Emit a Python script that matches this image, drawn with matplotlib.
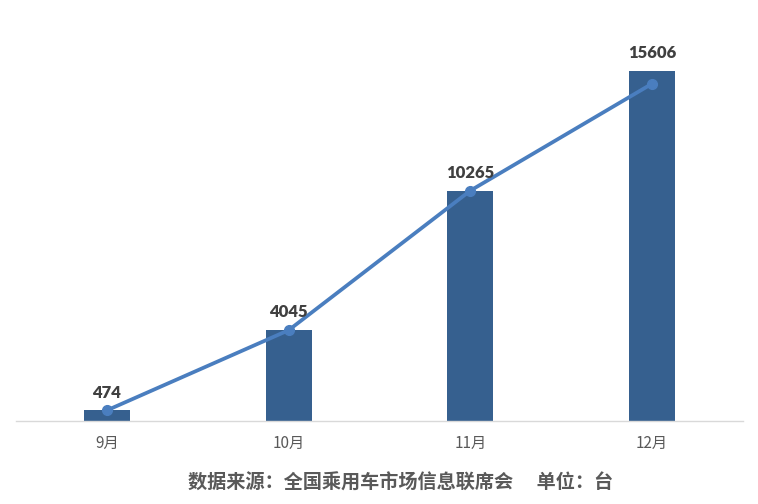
import matplotlib
matplotlib.use('Agg')
import matplotlib.pyplot as plt
import numpy as np

# data
months = ['9月', '10月', '11月', '12月']
bar_vals = [474, 4045, 10265, 15606]
line_vals = [474, 4045, 10265, 15030]
source = '数据来源：全国乘用车市场信息联席会\u3000 单位：台'

plt.rcParams['font.family'] = ['Noto Sans CJK SC', 'DejaVu Sans']

fig = plt.figure(figsize=(7.58, 5.04), dpi=100)
ax = fig.add_axes([16/758, 83/504, 727/758, 404/504])

x = np.arange(len(months))
ax.bar(x, bar_vals, width=0.253, color='#36608F', zorder=2)
ax.plot(x, line_vals, color='#4A7EBF', lw=2.7, marker='o', ms=7, zorder=3,
        solid_capstyle='round')

for xi, v in zip(x, bar_vals):
	ax.annotate(str(v), (xi, v), xytext=(0, 7), textcoords='offset points',
	            ha='center', va='bottom', fontsize=12, fontweight='heavy',
	            color='#404040', family=['Lato', 'DejaVu Sans'])

ax.set_xlim(-0.5, 3.5)
ax.set_ylim(0, 18000)
ax.set_xticks(x)
ax.set_xticklabels(months, fontsize=11, color='#595959')
ax.tick_params(axis='x', length=0, pad=10)
ax.set_yticks([])
for s in ['top', 'right', 'left']:
	ax.spines[s].set_visible(False)
ax.spines['bottom'].set_color('#D9D9D9')
ax.spines['bottom'].set_linewidth(1)

fig.text(401/758, 1 - 483/504, source, ha='center', va='center',
         fontsize=13.8, fontweight='bold', color='#595959')

fig.savefig('out.png', dpi=100)
